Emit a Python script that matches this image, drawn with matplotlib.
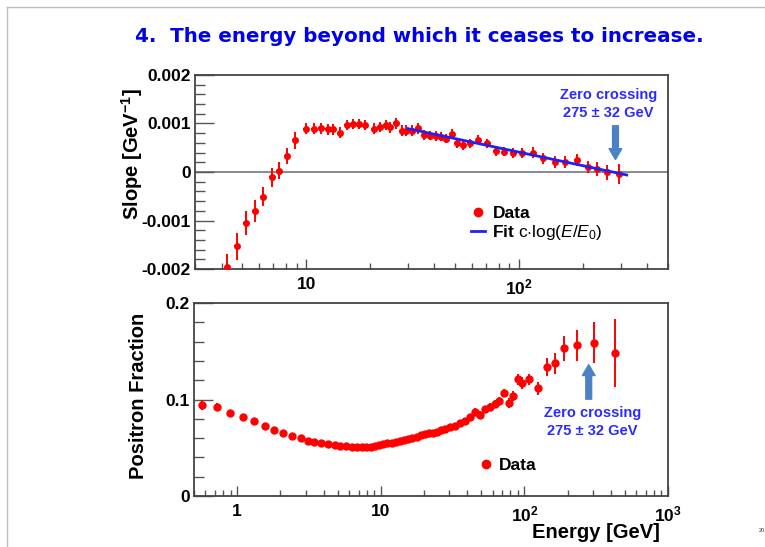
import numpy as np
import matplotlib.pyplot as plt
from matplotlib.ticker import LogLocator, MultipleLocator, NullFormatter, FuncFormatter
from matplotlib.patches import FancyArrowPatch
from matplotlib.lines import Line2D

plt.rcParams['font.family'] = ['Liberation Sans', 'DejaVu Sans']
plt.rcParams['mathtext.fontset'] = 'custom'
plt.rcParams['mathtext.rm'] = 'Liberation Sans'
plt.rcParams['mathtext.it'] = 'Liberation Sans:italic'
plt.rcParams['mathtext.bf'] = 'Liberation Sans:bold'

# slope of the positron fraction vs energy (upper panel)
slope_energy = [4.26, 4.71, 5.20, 5.73, 6.27, 6.89, 7.46, 8.11, 8.85,
                10.0, 10.9, 11.7, 12.6, 13.4, 14.4, 15.5, 16.5, 17.7, 18.8,
                20.7, 22.1, 23.6, 24.8, 26.3, 28.0, 29.5, 31.4, 33.5, 35.6,
                38.0, 40.6, 42.9, 45.3, 48.2, 51.2, 54.6, 58.7, 64.3, 70.4,
                77.9, 85.3, 93.4, 103, 116, 130, 148, 164, 186, 211,
                233, 259, 294]
slope_value = [-0.00196, -0.00153, -0.00105, -0.00080, -0.00051, -0.00011, 0.00003, 0.00033, 0.00065,
               0.00089, 0.00089, 0.00090, 0.00088, 0.00088, 0.00081, 0.00097, 0.00099, 0.00099, 0.00097,
               0.00089, 0.00093, 0.00097, 0.00092, 0.00100, 0.00085, 0.00085, 0.00085, 0.00090, 0.00076,
               0.00075, 0.00074, 0.00073, 0.00069, 0.00078, 0.00060, 0.00056, 0.00059, 0.00067, 0.00059,
               0.00044, 0.00042, 0.00039, 0.00039, 0.00040, 0.00028, 0.00020, 0.00021, 0.00025, 0.00010,
               0.00006, -0.00001, -0.00004]
slope_error = [0.00026, 0.00028, 0.00025, 0.00023, 0.00020, 0.00020, 0.00018, 0.00017, 0.00018,
               0.00011, 0.00011, 0.00011, 0.00011, 0.00011, 0.00011, 0.00011, 0.00011, 0.00011, 0.00011,
               0.00011, 0.00011, 0.00011, 0.00011, 0.00011, 0.00011, 0.00011, 0.00011, 0.00011, 0.00011,
               0.00010, 0.00010, 0.00010, 0.00010, 0.00010, 0.00010, 0.00010, 0.00010, 0.00010, 0.00010,
               0.00010, 0.00010, 0.00010, 0.00010, 0.00011, 0.00011, 0.00012, 0.00012, 0.00012, 0.00013,
               0.00014, 0.00015, 0.00020]
bin_halfwidth = 0.03   # relative half width of the energy bins

# fit: slope = c * log10(E / E0)
fit_c = -0.00093
fit_E0 = 275.
fit_range = [30., 320.]

# positron fraction (lower panel)
frac_energy = [0.572, 0.721, 0.893, 1.09, 1.31, 1.56, 1.81, 2.10, 2.41, 2.79,
               3.10, 3.45, 3.85, 4.28, 4.77, 5.23, 5.75, 6.30, 6.83, 7.40,
               7.94, 8.51, 9.08, 9.68, 10.4, 11.1, 11.9, 12.7, 13.6, 14.5,
               15.5, 16.6, 17.8, 19.0, 20.3, 21.7, 23.2, 24.8, 26.4, 28.0,
               30.4, 32.9, 35.7, 38.7, 41.9, 45.4, 49.2, 53.3, 57.8, 62.7,
               66.8, 71.6, 77.6, 83.3, 89.8, 96.4, 108, 124, 143, 163,
               188, 234, 305, 428]
frac_value = [0.0943, 0.0919, 0.0863, 0.0822, 0.0777, 0.0725, 0.0684, 0.0650, 0.0622, 0.0598,
              0.0573, 0.0563, 0.0552, 0.0542, 0.0532, 0.0521, 0.0515, 0.0511, 0.0508, 0.0508,
              0.0508, 0.0511, 0.0515, 0.0525, 0.0536, 0.0546, 0.0552, 0.0560, 0.0567, 0.0577,
              0.0588, 0.0598, 0.0615, 0.0629, 0.0639, 0.0650, 0.0658, 0.0666, 0.0680, 0.0697,
              0.0712, 0.0728, 0.0760, 0.0780, 0.0816, 0.0874, 0.0839, 0.0898, 0.0919, 0.0953,
              0.0988, 0.1070, 0.0961, 0.1036, 0.1209, 0.1174, 0.1209, 0.1116, 0.1340, 0.1375,
              0.1530, 0.1560, 0.1590, 0.1480]
frac_error = [0.005, 0.004, 0.002, 0.002, 0.002, 0.002, 0.002, 0.002, 0.002, 0.002,
              0.002, 0.002, 0.002, 0.002, 0.002, 0.002, 0.002, 0.002, 0.002, 0.002,
              0.002, 0.002, 0.002, 0.002, 0.002, 0.002, 0.002, 0.002, 0.002, 0.002,
              0.002, 0.002, 0.002, 0.002, 0.002, 0.002, 0.002, 0.002, 0.002, 0.002,
              0.002, 0.002, 0.003, 0.003, 0.003, 0.004, 0.004, 0.004, 0.004, 0.004,
              0.004, 0.004, 0.005, 0.005, 0.006, 0.006, 0.006, 0.007, 0.0095, 0.011,
              0.013, 0.016, 0.021, 0.035]

zero_crossing = 275.

RED = '#ff0000'
BLUE_TXT = '#2b2bff'
ARROW = '#4a82c4'
FRAME = '#444444'


def style_axes(ax, xlim, ylim, ymajor, yminor, xlabels, yfmt):
   ax.set_xscale('log')
   ax.set_xlim(*xlim)
   ax.set_ylim(*ylim)
   ax.yaxis.set_major_locator(MultipleLocator(ymajor))
   ax.yaxis.set_minor_locator(MultipleLocator(yminor))
   ax.xaxis.set_major_locator(LogLocator(base=10))
   ax.xaxis.set_minor_locator(LogLocator(base=10, subs=np.arange(2, 10)))
   ax.xaxis.set_minor_formatter(NullFormatter())
   ax.xaxis.set_major_formatter(FuncFormatter(lambda v, p: xlabels.get(int(round(np.log10(v))), '')))
   ax.yaxis.set_major_formatter(FuncFormatter(yfmt))
   ax.tick_params(which='both', direction='in', top=False, right=False, color='#555555', width=1,
                  labelsize=12.5)
   ax.tick_params(axis='y', which='major', length=14, pad=3)
   ax.tick_params(axis='y', which='minor', length=7)
   ax.tick_params(axis='x', which='major', length=7, pad=6)
   ax.tick_params(axis='x', which='minor', length=4)
   for lab in ax.get_xticklabels() + ax.get_yticklabels():
      lab.set_fontweight('bold')
   for s in ax.spines.values():
      s.set_color(FRAME)
      s.set_linewidth(1.3)


fig = plt.figure(figsize=(7.65, 5.47), dpi=100)

# slide decoration
fig.add_artist(Line2D([7/765, 1], [1-7/547, 1-7/547], color='#c0c0c0', lw=1))
fig.add_artist(Line2D([7/765, 7/765], [0, 1-7/547], color='#c0c0c0', lw=1))
fig.text(419/765, 1-37/547, '4.  The energy beyond which it ceases to increase.',
         ha='center', va='center', color='#0000ee', fontsize=14.3, fontweight='bold',
         family='DejaVu Sans')
fig.text(762/765, 1-531/547, '20', fontsize=4, ha='center', va='center', color='#333333')

# ---------- upper panel ----------
ax1 = fig.add_axes([0.2549, 0.5082, 0.6183, 0.3547])
sE = np.array(slope_energy)
ax1.axhline(0, color='#808080', lw=1.3, zorder=1)
ax1.errorbar(sE, slope_value, yerr=slope_error, xerr=sE * bin_halfwidth,
             fmt='o', color=RED, ms=4, elinewidth=1.4, capsize=0, zorder=3)
fit_x = np.array(fit_range)
ax1.plot(fit_x, fit_c * np.log10(fit_x / fit_E0), color='#2222ee', lw=2, zorder=4)
style_axes(ax1, (3, 500), (-0.002, 0.002), 0.001, 0.0002, {1: '10', 2: '10$^{\\mathbf{2}}$'},
           lambda v, p: '0' if abs(v) < 1e-9 else '%.3f' % v)

ax1.add_patch(FancyArrowPatch((zero_crossing * 1.03, 0.00101), (zero_crossing * 1.03, 0.00020),
                              arrowstyle='simple,head_width=0.7,head_length=0.6,tail_width=0.32',
                              mutation_scale=13, color=ARROW, zorder=5))
ax1.text(262, 0.00158, 'Zero crossing', ha='center', va='center', color=BLUE_TXT,
         fontsize=10.5, fontweight='bold')
ax1.text(262, 0.00121, '275 ± 32 GeV', ha='center', va='center', color=BLUE_TXT,
         fontsize=10.5, fontweight='bold')

h_data = Line2D([], [], marker='o', ls='none', color=RED, ms=6)
h_fit = Line2D([], [], color='#2222ee', lw=2)
fit_label = r'Fit $\mathrm{c}{\cdot}\mathrm{log(}\mathit{E/E}_{\mathit{0}}\mathrm{)}$'
fig.legend([h_data, h_fit], ['Data', fit_label],
           loc='upper left', bbox_to_anchor=(462/765, 1-197/547), frameon=False,
           borderpad=0, handlelength=0.8, handletextpad=0.45, labelspacing=0.15,
           prop={'size': 12.5, 'weight': 'bold'})

# ---------- lower panel ----------
ax2 = fig.add_axes([0.2536, 0.0932, 0.6196, 0.3528])
ax2.errorbar(frac_energy, frac_value, yerr=frac_error, fmt='o', color=RED, ms=5,
             elinewidth=1.4, capsize=0, zorder=3)
style_axes(ax2, (0.5, 1000), (0, 0.2), 0.1, 0.02,
           {0: '1', 1: '10', 2: '10$^{\\mathbf{2}}$', 3: '10$^{\\mathbf{3}}$'},
           lambda v, p: '0' if abs(v) < 1e-9 else '%g' % v)

ax2.add_patch(FancyArrowPatch((zero_crossing * 1.02, 0.0975), (zero_crossing * 1.02, 0.139),
                              arrowstyle='simple,head_width=0.7,head_length=0.6,tail_width=0.32',
                              mutation_scale=13, color=ARROW, zorder=5))
ax2.text(299, 0.086, 'Zero crossing', ha='center', va='center', color=BLUE_TXT,
         fontsize=10.5, fontweight='bold')
ax2.text(299, 0.0675, '275 ± 32 GeV', ha='center', va='center', color=BLUE_TXT,
         fontsize=10.5, fontweight='bold')
fig.legend([Line2D([], [], marker='o', ls='none', color=RED, ms=6)], ['Data'],
           loc='upper left', bbox_to_anchor=(470/765, 1-449/547), frameon=False,
           borderpad=0, handlelength=0.8, handletextpad=0.35,
           prop={'size': 12.5, 'weight': 'bold'})

# axis titles, ROOT style
fig.text(132/765, 1-88/547, 'Slope [GeV$^{\\mathbf{-1}}$]', rotation=90, ha='center', va='top',
         fontsize=14.5, fontweight='bold')
fig.text(138/765, 1-313/547, 'Positron Fraction', rotation=90, ha='center', va='top',
         fontsize=14.5, fontweight='bold')
fig.text(660/765, 1-532/547, 'Energy [GeV]', ha='right', va='center',
         fontsize=14.5, fontweight='bold')

fig.savefig('out.png', dpi=100)
